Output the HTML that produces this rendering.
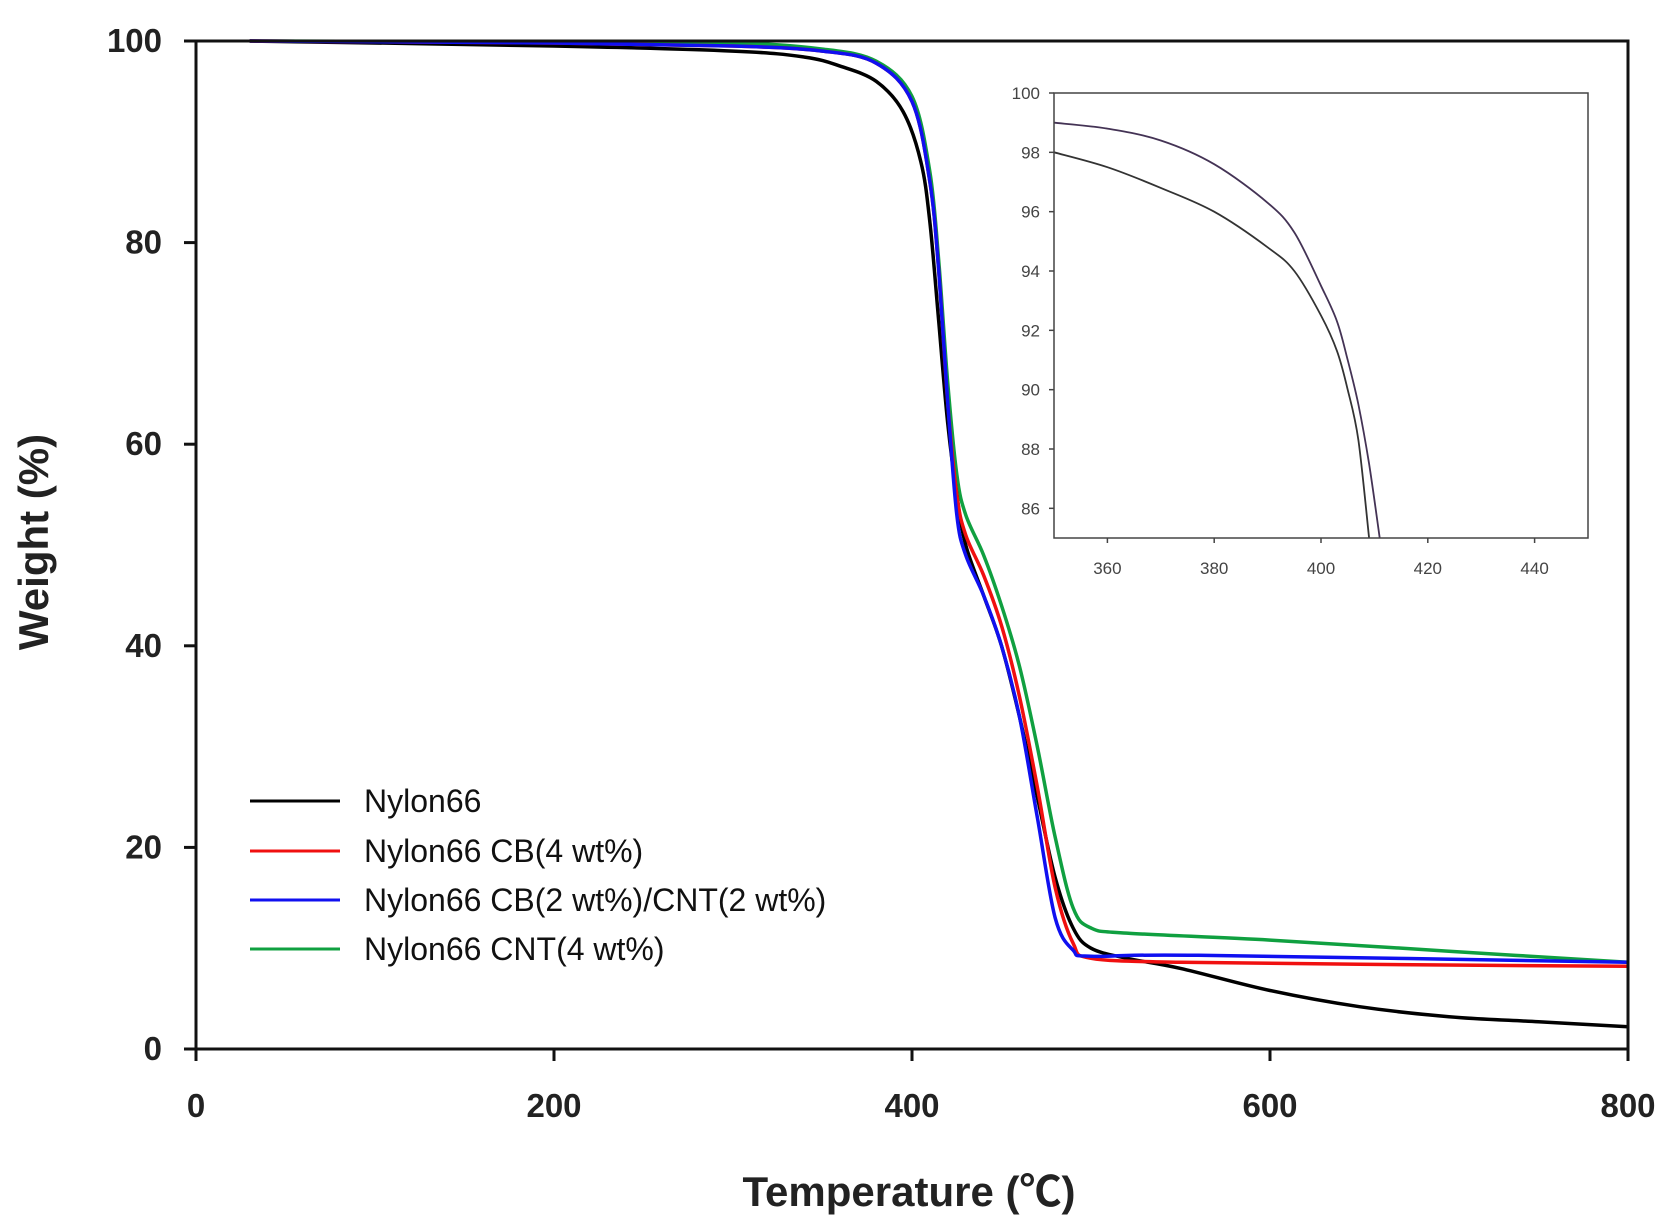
<!DOCTYPE html>
<html><head><meta charset="utf-8"><style>
html,body{margin:0;padding:0;background:#fff;}
svg{display:block;font-family:"Liberation Sans",sans-serif;}
</style></head><body>
<svg id="chart" width="1667" height="1229" viewBox="0 0 1667 1229" xmlns="http://www.w3.org/2000/svg">
<rect width="1667" height="1229" fill="#fff"/>
<g id="main"></g>
<g id="inset"></g>
<text x="909" y="1206" text-anchor="middle" font-size="42" font-weight="bold" fill="#222">Temperature (<tspan font-family="'Noto Sans CJK SC',sans-serif">℃</tspan>)</text>
<text transform="translate(48,542) rotate(-90)" text-anchor="middle" font-size="42" font-weight="bold" fill="#222">Weight (%)</text>
<g font-size="32" fill="#111">
<g><line x1="250" x2="340" y1="801" y2="801" stroke="#000" stroke-width="3"/><text x="364" y="812">Nylon66</text></g>
<g><line x1="250" x2="340" y1="851" y2="851" stroke="#f01010" stroke-width="3"/><text x="364" y="862">Nylon66 CB(4 wt%)</text></g>
<g><line x1="250" x2="340" y1="900" y2="900" stroke="#1010f0" stroke-width="3"/><text x="364" y="911">Nylon66 CB(2 wt%)/CNT(2 wt%)</text></g>
<g><line x1="250" x2="340" y1="949" y2="949" stroke="#10a040" stroke-width="3"/><text x="364" y="960">Nylon66 CNT(4 wt%)</text></g>
</g>
</svg>
<script>
const xTicks=[0,200,400,600,800];
const yTicks=[0,20,40,60,80,100];
const tNylon=[30,200,300,340,360,380,395,405,410,415,420,425,430,440,450,460,470,480,490,500,520,550,600,650,700,750,800];
const wNylon=[100,99.5,99,98.4,97.5,96,93,88,82,72,62,55,50,45,40,33,25,17,12,10,9,8,5.8,4.2,3.2,2.7,2.2];
const tCB=[30,200,300,350,380,400,410,415,420,425,430,440,450,460,470,480,490,500,550,650,800];
const wCB=[100,99.8,99.5,99,97.8,94,86,77,64,55,51,47,42,35,26,16,10.5,9,8.6,8.4,8.2];
const tMix=[30,200,300,350,380,400,410,415,420,425,430,440,450,460,470,480,490,500,560,800];
const wMix=[100,99.8,99.5,99,97.8,94,86,77,64,53,49,45,40,33,23,13,9.8,9.2,9.3,8.6];
const tCNT=[30,200,300,350,380,400,410,415,420,425,430,440,450,460,470,480,490,500,520,600,700,800];
const wCNT=[100,99.9,99.8,99.2,98,94.5,87,78,66,57,53,49,44,38,30,21,14,12,11.5,10.8,9.7,8.6];
const insXTicks=[360,380,400,420,440];
const insYTicks=[86,88,90,92,94,96,98,100];
const insTNylon=[350,360,370,380,390,395,400,403,405,407,409];
const insWNylon=[98,97.5,96.8,96,94.8,94,92.5,91.3,90,88.3,85];
const insTOther=[350,360,370,380,390,395,400,403,405,407,409,411];
const insWOther=[99,98.8,98.4,97.6,96.3,95.3,93.5,92.3,91,89.5,87.5,85];

const NS="http://www.w3.org/2000/svg";
function mk(tag,attrs,parent){const e=document.createElementNS(NS,tag);for(const k in attrs)e.setAttribute(k,attrs[k]);parent.appendChild(e);return e;}
const L=196,R=1628,T=41,B=1049;
const sx=v=>L+(v-0)/(800-0)*(R-L);
const sy=v=>B-(v-0)/100*(B-T);
const main=document.getElementById('main');
function series(ts,ws,color,name,fx,fy,parent,w){
  const P=ts.map((t,i)=>[fx(t),fy(ws[i])]);
  let d='M'+P[0][0].toFixed(1)+','+P[0][1].toFixed(1);
  for(let i=0;i<P.length-1;i++){
    const p0=P[Math.max(0,i-1)],p1=P[i],p2=P[i+1],p3=P[Math.min(P.length-1,i+2)];
    const c1=[p1[0]+(p2[0]-p0[0])/6,p1[1]+(p2[1]-p0[1])/6];
    const c2=[p2[0]-(p3[0]-p1[0])/6,p2[1]-(p3[1]-p1[1])/6];
    d+='C'+c1.map(v=>v.toFixed(1)).join(',')+' '+c2.map(v=>v.toFixed(1)).join(',')+' '+p2.map(v=>v.toFixed(1)).join(',');
  }
  const p=mk('path',{d:d,fill:'none',stroke:color,'stroke-width':w,'stroke-linejoin':'round'},parent);
  
  
}
series(tCNT,wCNT,'#10a040','series-cnt4',sx,sy,main,3.5);
series(tNylon,wNylon,'#000','series-nylon66',sx,sy,main,3.5);
series(tCB,wCB,'#f01010','series-cb4',sx,sy,main,3.5);
series(tMix,wMix,'#1010f0','series-cb2-cnt2',sx,sy,main,3.5);
const frame=mk('rect',{x:L,y:T,width:R-L,height:B-T,fill:'none',stroke:'#111','stroke-width':3},main);


xTicks.forEach(v=>{
  mk('line',{x1:sx(v),x2:sx(v),y1:B,y2:B+12,stroke:'#111','stroke-width':3},main);
  const t=mk('text',{x:sx(v),y:1117,'text-anchor':'middle','font-size':33,'font-weight':'bold',fill:'#222'},main);
  t.textContent=v;
  
  
});
yTicks.forEach(v=>{
  mk('line',{x1:L-12,x2:L,y1:sy(v),y2:sy(v),stroke:'#111','stroke-width':3},main);
  const t=mk('text',{x:162,y:sy(v)+11,'text-anchor':'end','font-size':33,'font-weight':'bold',fill:'#222'},main);
  t.textContent=v;
  
  
});
const iL=1054,iR=1588,iT=93,iB=538;
const ix=v=>iL+(v-350)/100*(iR-iL);
const iy=v=>iB-(v-85)/15*(iB-iT);
const inset=document.getElementById('inset');


const cp=mk('clipPath',{id:'ic'},inset);
mk('rect',{x:iL,y:iT,width:iR-iL,height:iB-iT},cp);
const ig=mk('g',{'clip-path':'url(#ic)'},inset);
series(insTNylon,insWNylon,'#333','inset-series-nylon66',ix,iy,ig,1.8);
series(insTOther,insWOther,'#443355','inset-series-composites',ix,iy,ig,1.8);
const ifr=mk('rect',{x:iL,y:iT,width:iR-iL,height:iB-iT,fill:'none',stroke:'#444','stroke-width':1.5},inset);


insXTicks.forEach(v=>{
  mk('line',{x1:ix(v),x2:ix(v),y1:iB,y2:iB+5,stroke:'#444','stroke-width':1.5},inset);
  const t=mk('text',{x:ix(v),y:iB+36,'text-anchor':'middle','font-size':17,fill:'#444'},inset);
  t.textContent=v;
  
  
});
insYTicks.forEach(v=>{
  mk('line',{x1:iL-5,x2:iL,y1:iy(v),y2:iy(v),stroke:'#444','stroke-width':1.5},inset);
  const t=mk('text',{x:iL-14,y:iy(v)+6,'text-anchor':'end','font-size':17,fill:'#444'},inset);
  t.textContent=v;
  
  
});
</script>
</body></html>
